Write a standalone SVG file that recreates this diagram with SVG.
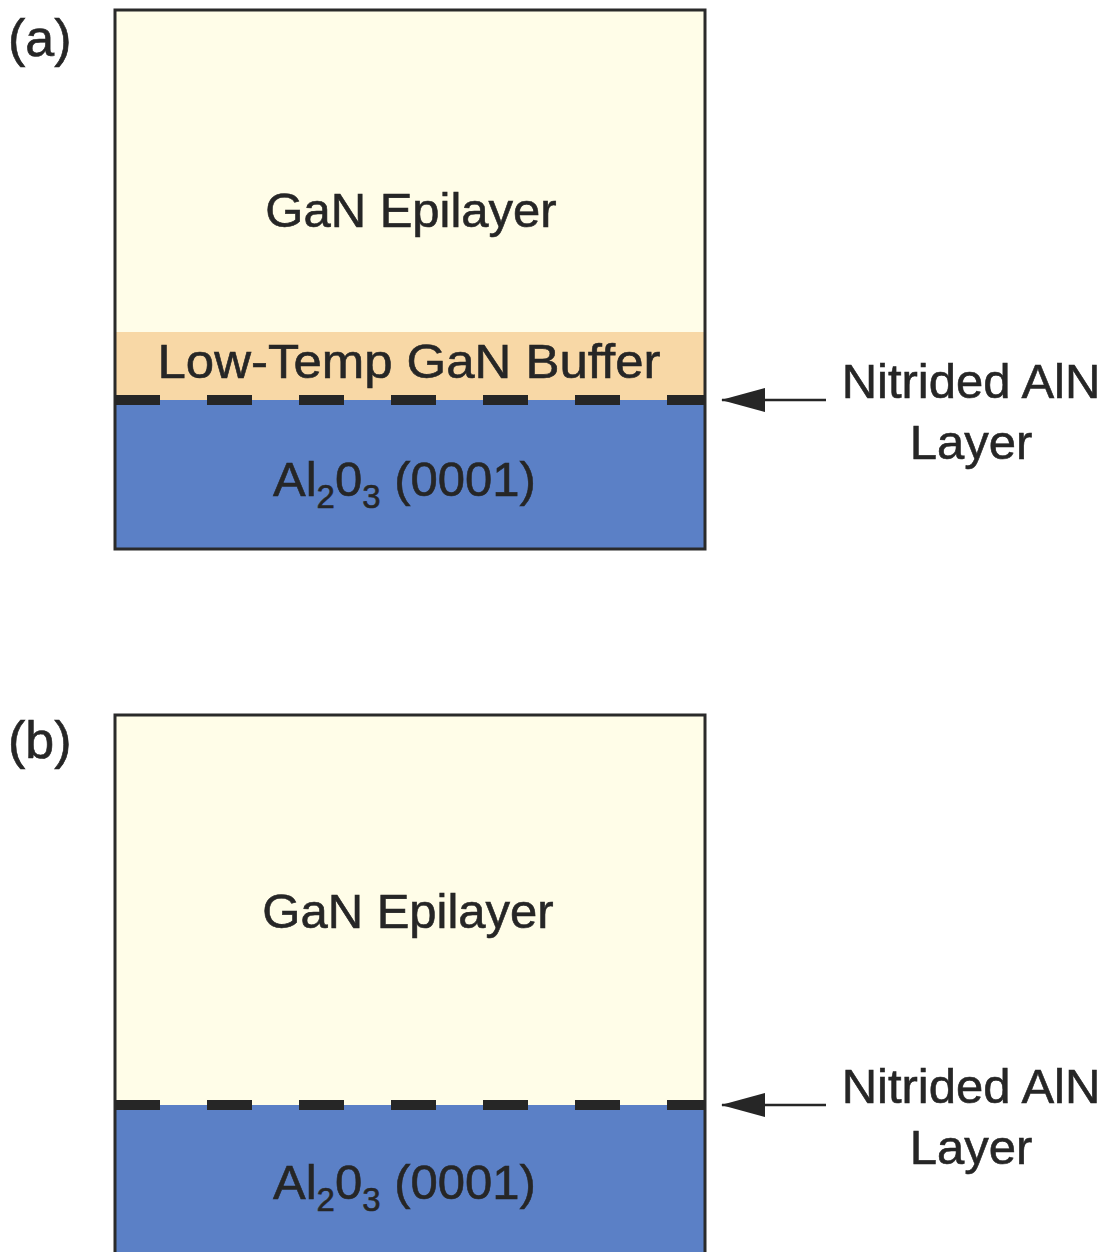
<svg xmlns="http://www.w3.org/2000/svg" width="1115" height="1252" viewBox="0 0 1115 1252">
<style>
.t{font-family:"Liberation Sans",Arial,sans-serif;fill:#262626;stroke:#262626;stroke-width:0.6;}
.lbl{font-size:52px;}
.big{font-size:49px;}
.sub{font-size:33px;}
.epi{fill:#fffde8;}
.buf{fill:#f8d8a6;}
.sap{fill:#5b80c6;}
.frame{fill:none;stroke:#2a2a2a;stroke-width:3;}
.dash{stroke:#262626;stroke-width:10;stroke-dasharray:45 47;fill:none;}
.arr{stroke:#262626;stroke-width:2.5;fill:none;}
</style>
<defs>
<marker id="ah" markerWidth="44" markerHeight="24" refX="43" refY="12" orient="auto" markerUnits="userSpaceOnUse">
<path d="M0,0 L44,12 L0,24 Z" fill="#262626"/>
</marker>
</defs>
<g id="panel-a">
<text class="t lbl" x="8" y="56">(a)</text>
<g id="a-epilayer"><rect class="epi" x="115" y="10" width="590" height="322"/>
<text class="t big" x="411" y="227" text-anchor="middle">GaN Epilayer</text></g>
<g id="a-buffer"><rect class="buf" x="115" y="332" width="590" height="68"/>
<text class="t big" x="409" y="378" text-anchor="middle" textLength="503" lengthAdjust="spacingAndGlyphs">Low-Temp GaN Buffer</text></g>
<g id="a-substrate"><rect class="sap" x="115" y="400" width="590" height="149"/>
<text class="t big" x="273" y="496">Al<tspan class="sub" dy="12">2</tspan><tspan dy="-12">0</tspan><tspan class="sub" dy="12">3</tspan><tspan dy="-12"> (0001)</tspan></text></g>
<rect class="frame" x="115" y="10" width="590" height="539"/>
<g id="a-label"><text class="t big" x="971" y="398" text-anchor="middle">Nitrided AlN</text>
<text class="t big" x="971" y="459" text-anchor="middle">Layer</text></g>
</g>
<g id="panel-b">
<text class="t lbl" x="8" y="758">(b)</text>
<g id="b-epilayer"><rect class="epi" x="115" y="715" width="590" height="390"/>
<text class="t big" x="408" y="928" text-anchor="middle">GaN Epilayer</text></g>
<g id="b-substrate"><rect class="sap" x="115" y="1105" width="590" height="160"/>
<text class="t big" x="273" y="1199">Al<tspan class="sub" dy="12">2</tspan><tspan dy="-12">0</tspan><tspan class="sub" dy="12">3</tspan><tspan dy="-12"> (0001)</tspan></text></g>
<rect class="frame" x="115" y="715" width="590" height="560"/>
<g id="b-label"><text class="t big" x="971" y="1103" text-anchor="middle">Nitrided AlN</text>
<text class="t big" x="971" y="1164" text-anchor="middle">Layer</text></g>
</g>
<g id="connectors">
<line class="dash" x1="115" y1="400" x2="705" y2="400"/>
<line class="dash" x1="115" y1="1105" x2="705" y2="1105"/>
<line class="arr" x1="826" y1="400" x2="722" y2="400" marker-end="url(#ah)"/>
<line class="arr" x1="826" y1="1105" x2="722" y2="1105" marker-end="url(#ah)"/>
</g>
</svg>
